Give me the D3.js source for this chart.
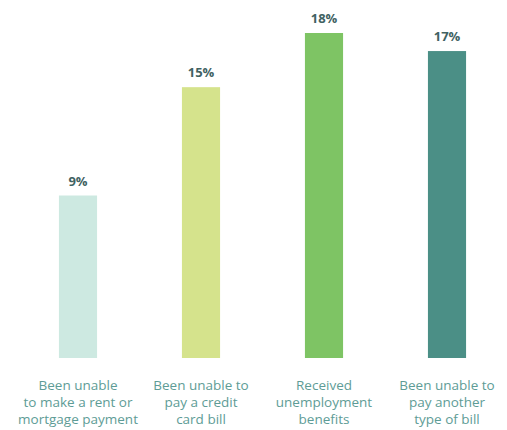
<!DOCTYPE html>
<html><head><meta charset="utf-8">
<script src="https://cdn.jsdelivr.net/npm/d3@7"></script>
<style>body{margin:0;background:#fff;} svg{display:block;}</style>
</head><body>
<svg id="c" width="507" height="430"></svg>
<script>
const categories = ["Been unable to make a rent or mortgage payment","Been unable to pay a credit card bill","Received unemployment benefits","Been unable to pay another type of bill"];
const labelLines = [["Been unable","to make a rent or","mortgage payment"],["Been unable to","pay a credit","card bill"],["Received","unemployment","benefits"],["Been unable to","pay another","type of bill"]];
const values = [9,15,18,17];
const colors = ["#cde9e1","#d5e38c","#7ec464","#4b8f86"];

const svg = d3.select("#c");
const x = d3.scaleBand().domain(categories).range([16.5,508.5]).paddingInner(0.69).paddingOuter(0.345);
const y = d3.scaleLinear().domain([0,18]).range([358,33]);

svg.selectAll("rect.bar").data(values).join("rect")
  .attr("x",(d,i)=>x(categories[i])).attr("width",x.bandwidth())
  .attr("y",d=>y(d)).attr("height",d=>y(0)-y(d))
  .attr("fill",(d,i)=>colors[i]);

svg.selectAll("text.val").data(values).join("text")
  .attr("x",(d,i)=>x(categories[i])+x.bandwidth()/2)
  .attr("y",d=>y(d)-10)
  .attr("text-anchor","middle")
  .attr("font-family","'Open Sans', Lato, sans-serif")
  .attr("font-weight","bold").attr("font-size","13px")
  .attr("fill","#3f6262")
  .text(d=>d+"%");

const g = svg.selectAll("text.cat").data(categories).join("text")
  .attr("text-anchor","middle")
  .attr("font-family","'Open Sans', Lato, sans-serif")
  .attr("font-size","13.5px")
  .attr("fill","#5e9c96");
g.each(function(d,i){
  const t=d3.select(this);
  labelLines[i].forEach((l,j)=>{
    t.append("tspan").attr("x",x(d)+x.bandwidth()/2).attr("y",390+j*17).text(l);
  });
});
</script>
</body></html>
